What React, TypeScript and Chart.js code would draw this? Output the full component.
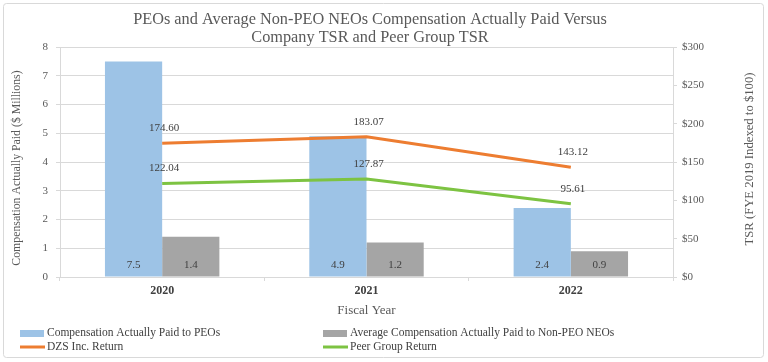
import React, { useEffect, useRef } from "react";
import { Chart, registerables } from "chart.js";

Chart.register(...registerables);

const years = ["2020", "2021", "2022"];
const peoCap = [7.5, 4.9, 2.4];
const neoCap = [1.4, 1.2, 0.9];
const dzsReturn = [174.6, 183.07, 143.12];
const peerReturn = [122.04, 127.87, 95.61];
const seriesNames = [
  "Compensation Actually Paid to PEOs",
  "Average Compensation Actually Paid to Non-PEO NEOs",
  "DZS Inc. Return",
  "Peer Group Return",
];
const titleLines = [
  "PEOs and Average Non-PEO NEOs Compensation Actually Paid Versus",
  "Company TSR and Peer Group TSR",
];
const leftAxisTitle = "Compensation Actually Paid ($ Millions)";
const rightAxisTitle = "TSR (FYE 2019 Indexed to $100)";
const xAxisTitle = "Fiscal Year";

const FONT = "'Liberation Serif', 'Times New Roman', serif";
const BLUE = "#9DC3E6";
const GREY = "#A5A5A5";
const ORANGE = "#ED7D31";
const GREEN = "#7DC342";
const GRID = "#D9D9D9";
const TEXT = "#404040";
const TICK = "#595959";

const overlay = {
  id: "overlay",
  beforeDraw(chart: any) {
    const ctx = chart.ctx;
    ctx.save();
    ctx.fillStyle = "#fff";
    ctx.fillRect(0, 0, chart.width, chart.height);
    ctx.strokeStyle = GRID;
    ctx.lineWidth = 1;
    ctx.beginPath();
    (ctx as any).roundRect
      ? (ctx as any).roundRect(3.5, 3.5, 760, 354, 3)
      : ctx.rect(3.5, 3.5, 760, 354);
    ctx.stroke();
    ctx.restore();
  },
  afterDatasetsDraw(chart: any) {
    const ctx = chart.ctx;
    ctx.save();
    ctx.font = `11px ${FONT}`;
    ctx.fillStyle = TEXT;
    ctx.textAlign = "center";
    ctx.textBaseline = "middle";
    const zeroY = chart.scales.y.getPixelForValue(0);
    chart.data.datasets.forEach((ds: any, i: number) => {
      const meta = chart.getDatasetMeta(i);
      meta.data.forEach((el: any, j: number) => {
        const v = ds.data[j];
        if (ds.type === "line") {
          ctx.fillText(v.toFixed(2), el.x + 2, el.y - 15);
        } else {
          ctx.fillText(v.toFixed(1), el.x, zeroY - 12);
        }
      });
    });
    ctx.restore();
  },
  afterDraw(chart: any) {
    const ctx = chart.ctx;
    ctx.save();
    // title
    ctx.fillStyle = TICK;
    ctx.font = `16.3px ${FONT}`;
    ctx.textAlign = "center";
    ctx.textBaseline = "middle";
    ctx.fillText(titleLines[0], 370, 20);
    ctx.fillText(titleLines[1], 370, 38);
    // left axis title
    ctx.font = `11.8px ${FONT}`;
    ctx.save();
    ctx.translate(17, 168);
    ctx.rotate(-Math.PI / 2);
    ctx.fillText(leftAxisTitle, 0, 0);
    ctx.restore();
    // right axis title
    ctx.font = `12.7px ${FONT}`;
    ctx.save();
    ctx.translate(750, 159);
    ctx.rotate(-Math.PI / 2);
    ctx.fillText(rightAxisTitle, 0, 0);
    ctx.restore();
    // legend
    ctx.font = `11.5px ${FONT}`;
    ctx.textAlign = "left";
    const pos = [
      [20, 333],
      [323, 333],
      [20, 347],
      [323, 347],
    ];
    chart.data.datasets.forEach((ds: any, i: number) => {
      const [x, y] = pos[i];
      if (ds.type === "line") {
        ctx.strokeStyle = ds.borderColor;
        ctx.lineWidth = 3;
        ctx.beginPath();
        ctx.moveTo(x, y);
        ctx.lineTo(x + 25, y);
        ctx.stroke();
      } else {
        ctx.fillStyle = ds.backgroundColor;
        ctx.fillRect(x, y - 3, 24, 7);
      }
      ctx.fillStyle = TEXT;
      ctx.fillText(ds.label, x + 27, y);
    });
    ctx.restore();
  },
};

export default function App() {
  const ref = useRef<HTMLCanvasElement>(null);
  useEffect(() => {
    if (!ref.current) return;
    const chart = new Chart(ref.current, {
      type: "bar",
      data: {
        labels: years,
        datasets: [
          {
            type: "bar",
            label: seriesNames[0],
            data: peoCap,
            backgroundColor: BLUE,
            yAxisID: "y",
            order: 2,
          },
          {
            type: "bar",
            label: seriesNames[1],
            data: neoCap,
            backgroundColor: GREY,
            yAxisID: "y",
            order: 2,
          },
          {
            type: "line",
            label: seriesNames[2],
            data: dzsReturn,
            borderColor: ORANGE,
            backgroundColor: ORANGE,
            borderWidth: 3,
            pointRadius: 0,
            tension: 0,
            yAxisID: "y1",
            order: 1,
          },
          {
            type: "line",
            label: seriesNames[3],
            data: peerReturn,
            borderColor: GREEN,
            backgroundColor: GREEN,
            borderWidth: 3,
            pointRadius: 0,
            tension: 0,
            yAxisID: "y1",
            order: 1,
          },
        ] as any,
      },
      options: {
        animation: false,
        responsive: false,
        devicePixelRatio: 1,
        layout: { padding: { top: 47, bottom: 40, left: 0, right: 0 } },
        datasets: { bar: { categoryPercentage: 0.56, barPercentage: 1 } },
        plugins: {
          legend: { display: false },
          title: { display: false },
          tooltip: { enabled: false },
        },
        scales: {
          x: {
            offset: true,
            grid: {
              offset: true,
              drawOnChartArea: false,
              color: GRID,
              tickLength: 4,
            },
            border: { color: GRID },
            ticks: {
              font: { family: FONT, size: 12, weight: "bold" },
              color: TEXT,
              padding: 3,
            },
            title: {
              display: true,
              text: xAxisTitle,
              font: { family: FONT, size: 13 },
              color: TICK,
              padding: { top: 0, bottom: 4 },
            },
            afterFit: (s: any) => {
              s.height = 45;
            },
          },
          y: {
            position: "left",
            min: 0,
            max: 8,
            ticks: {
              stepSize: 1,
              padding: 8,
              font: { family: FONT, size: 11 },
              color: TICK,
            },
            grid: { color: GRID, tickLength: 4 },
            border: { color: GRID },
            title: { display: false },
            afterFit: (s: any) => {
              s.width = 60;
            },
          },
          y1: {
            position: "right",
            min: 0,
            max: 300,
            ticks: {
              stepSize: 50,
              padding: 5,
              font: { family: FONT, size: 11 },
              color: TICK,
              callback: (v: any) => "$" + v,
            },
            grid: { drawOnChartArea: false, color: GRID, tickLength: 4 },
            border: { color: GRID },
            afterFit: (s: any) => {
              s.width = 95;
            },
          },
        },
      } as any,
      plugins: [overlay],
    });
    return () => chart.destroy();
  }, []);
  return (
    <div style={{ position: "fixed", left: 0, top: 0, width: 768, height: 362 }}>
      <canvas ref={ref} width={768} height={362} />
    </div>
  );
}
